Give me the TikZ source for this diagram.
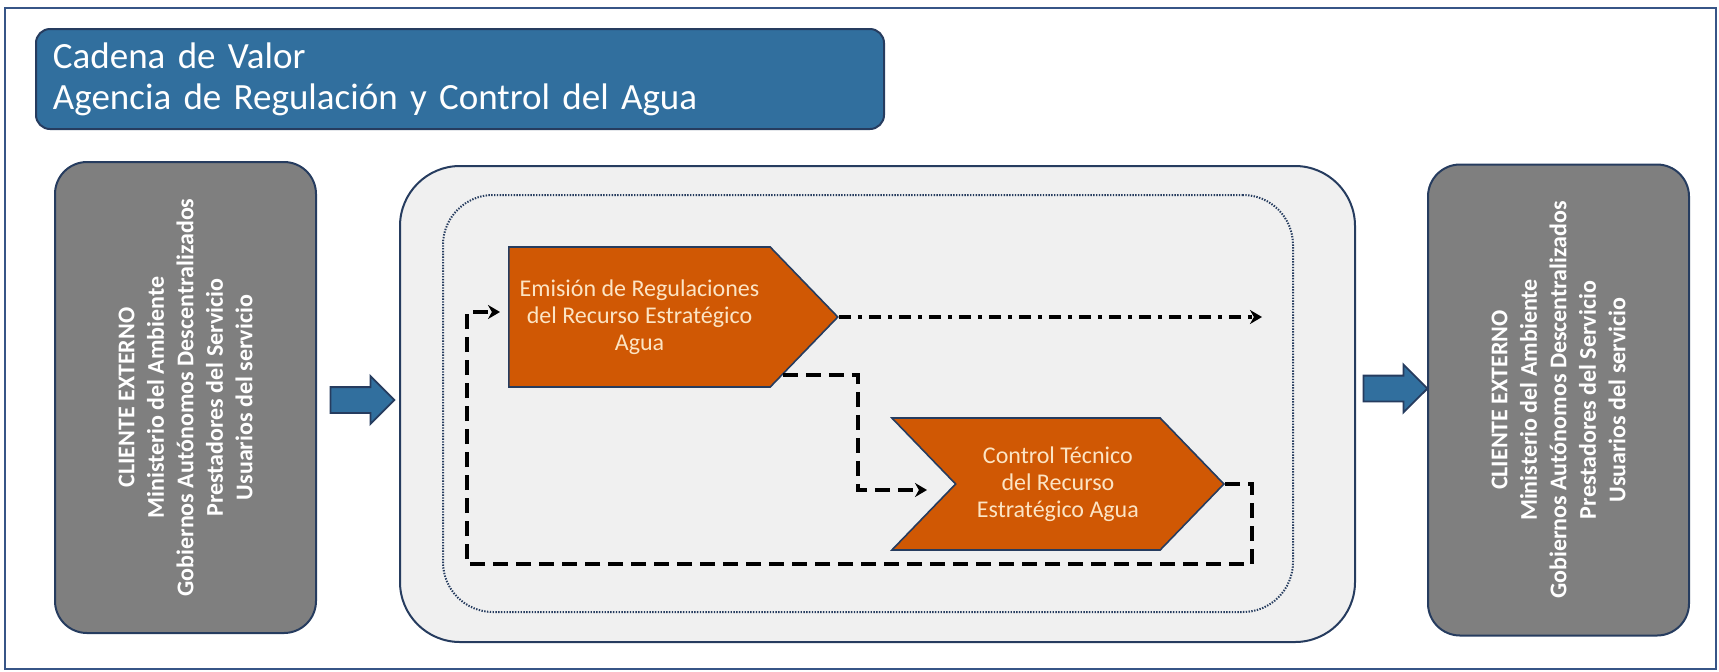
\documentclass[tikz,border=0pt]{standalone}
\usepackage{fontspec}
\setmainfont{Carlito}
\usetikzlibrary{shapes.symbols,shapes.arrows,arrows.meta,positioning}

\definecolor{marino}{RGB}{38,60,95}
\definecolor{marco}{RGB}{55,85,135}
\definecolor{azultitulo}{RGB}{49,111,158}
\definecolor{grisbloque}{RGB}{127,127,127}
\definecolor{grisfondo}{RGB}{240,240,240}
\definecolor{naranja}{RGB}{208,88,4}
\definecolor{crema}{RGB}{252,228,196}

\tikzset{
  cliente/.style={draw=marino, line width=1pt, fill=grisbloque, rounded corners=16pt, rotate=90,
    minimum width=235.5pt, minimum height=130.5pt, align=center, text=white, inner sep=0pt,
    font=\bfseries\fontsize{12}{14.75}\selectfont},
  proceso/.style={signal, draw=marino, line width=0.8pt, fill=naranja, text=crema, align=center,
    inner sep=0pt, signal pointer angle=92, font=\fontsize{12}{13.4}\selectfont},
  flecha/.style={single arrow, draw=marino, line width=0.9pt, fill=azultitulo, inner xsep=0pt,
    inner ysep=6pt, minimum height=32pt, single arrow head extend=5.5pt, single arrow tip angle=90},
  discontinua/.style={line width=1.6pt, dash pattern=on 7.5pt off 4pt, -{Stealth[length=6pt,width=7pt]}},
  puntoraya/.style={line width=1.6pt, dash pattern=on 6pt off 3.5pt on 2pt off 3.5pt, -{Stealth[length=6pt,width=7pt]}},
}

\begin{document}
\begin{tikzpicture}[x=0.5pt,y=-0.5pt]
  \useasboundingbox (0,0) rectangle (1719,671);
  % marco
  \draw[marco, line width=0.8pt] (5,8) rectangle (1716,669);

  % titulo
  \node[draw=marino, line width=1pt, fill=azultitulo, rounded corners=7pt, anchor=north west,
    minimum width=424pt, minimum height=50pt, text width=407pt, inner xsep=8.5pt, align=left,
    text=white, font=\fontsize{18.5}{20.5}\selectfont] (titulo) at (35,28)
    {Cadena de Valor\\Agencia de Regulación y Control del Agua};

  % clientes
  \node[cliente] (clienteizq) at (185.5,397.5)
    {CLIENTE EXTERNO\\Ministerio del Ambiente\\Gobiernos Autónomos Descentralizados\\Prestadores del Servicio\\Usuarios del servicio};
  \node[cliente] (clienteder) at (1558.5,400)
    {CLIENTE EXTERNO\\Ministerio del Ambiente\\Gobiernos Autónomos Descentralizados\\Prestadores del Servicio\\Usuarios del servicio};

  % cadena
  \node[draw=marino, line width=1pt, fill=grisfondo, rounded corners=30pt,
    minimum width=477.5pt, minimum height=238pt] (cadena) at (877.5,404) {};
  \node[draw=marino, dash pattern=on 0.7pt off 0.7pt, line width=1pt, rounded corners=25pt,
    minimum width=425pt, minimum height=208.5pt] (interno) at (868,403.5) {};

  \node[flecha] (flechaizq) at (356,400) {};
  \node[flecha] (flechader) at (1389,388.5) {};

  \node[proceso, signal to=east, anchor=west, minimum width=164.5pt, minimum height=70pt] (emision) at (508,317)
    {Emisión de Regulaciones\\del Recurso Estratégico\\Agua};
  \node[proceso, signal from=west, signal to=east, anchor=east, minimum width=166pt, minimum height=66pt] (control) at (1225,484)
    {Control Técnico\\del Recurso\\Estratégico Agua};

  % conectores
  \coordinate (finpunto) at (1262,317);
  \coordinate (codo) at (858,490);
  \coordinate (llegada) at (927,490);
  \coordinate (retorno) at (1252,564);
  \coordinate (esquina) at (467,564);
  \coordinate (entrada) at (500,312);

  \draw[puntoraya] (emision.east) -- (finpunto);
  \draw[discontinua] (emision.-22) -| (codo) -- (llegada);
  \draw[discontinua] (control.east) -| (retorno) -- (esquina) |- (entrada);
\end{tikzpicture}
\end{document}
